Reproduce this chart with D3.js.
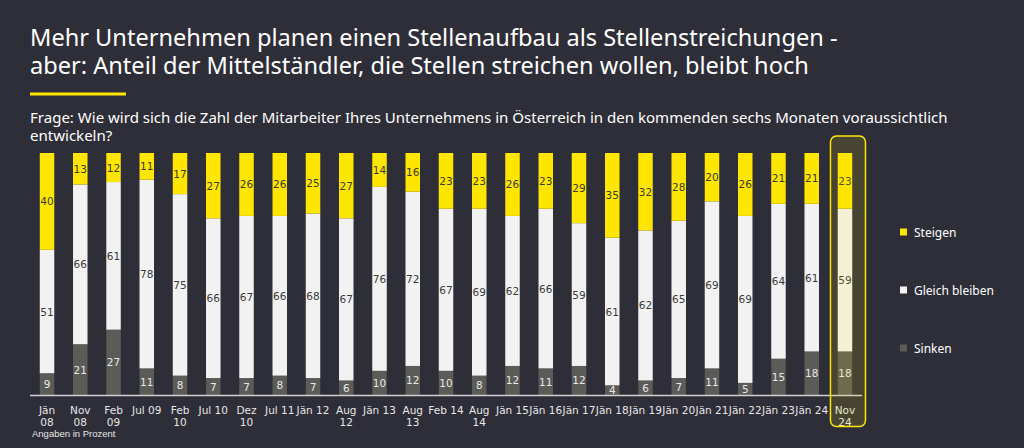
<!DOCTYPE html>
<html><head><meta charset="utf-8">
<script src="https://cdn.jsdelivr.net/npm/d3@7"></script>
<style>
html,body{margin:0;padding:0;background:#2e2e38;}
svg{display:block;}
</style></head>
<body>
<svg id="c" width="1024" height="448"></svg>
<script>
const categories = ["Jän\n08","Nov\n08","Feb\n09","Jul 09","Feb\n10","Jul 10","Dez\n10","Jul 11","Jän 12","Aug\n12","Jän 13","Aug\n13","Feb 14","Aug\n14","Jän 15","Jän 16","Jän 17","Jän 18","Jän 19","Jän 20","Jän 21","Jän 22","Jän 23","Jän 24","Nov\n24"];
const steigen = [40,13,12,11,17,27,26,26,25,27,14,16,23,23,26,23,29,35,32,28,20,26,21,21,23];
const gleich  = [51,66,61,78,75,66,67,66,68,67,76,72,67,69,62,66,59,61,62,65,69,69,64,61,59];
const sinken  = [9,21,27,11,8,7,7,8,7,6,10,12,10,8,12,11,12,4,6,7,11,5,15,18,18];
const seriesNames = ["Sinken","Gleich bleiben","Steigen"];
const legendOrder = ["Steigen","Gleich bleiben","Sinken"];
const titleLines = ["Mehr Unternehmen planen einen Stellenaufbau als Stellenstreichungen -","aber: Anteil der Mittelständler, die Stellen streichen wollen, bleibt hoch"];
const subtitleLines = ["Frage: Wie wird sich die Zahl der Mitarbeiter Ihres Unternehmens in Österreich in den kommenden sechs Monaten voraussichtlich","entwickeln?"];
const footnote = "Angaben in Prozent";

const colors = {"Steigen":"#ffe600","Gleich bleiben":"#f2f2f2","Sinken":"#5b5b58"};
const labelColors = {"Steigen":"#3a3a3a","Gleich bleiben":"#3a3a3a","Sinken":"#e8e8e8"};

const svg = d3.select("#c");
const W = 1024, H = 448;
svg.append("rect").attr("width",W).attr("height",H).attr("fill","#2e2e38");

function fitText(sel, target){
  const len = sel.node().getComputedTextLength();
  const fs = parseFloat(sel.attr("font-size"));
  sel.attr("font-size", (fs*target/len).toFixed(2));
}

// Title
const titleFont = "'Noto Sans', 'Open Sans', sans-serif";
const t1 = svg.append("text").attr("x",30).attr("y",46).attr("fill","#ffffff")
  .attr("font-family",titleFont).attr("font-size",24).text(titleLines[0]);
fitText(t1, 808);
svg.append("text").attr("x",30).attr("y",74).attr("fill","#ffffff")
  .attr("font-family",titleFont).attr("font-size",t1.attr("font-size")).text(titleLines[1]);

svg.append("rect").attr("x",30).attr("y",92.5).attr("width",96).attr("height",3).attr("fill","#ffe600");

const s1 = svg.append("text").attr("x",30).attr("y",123).attr("fill","#ffffff")
  .attr("font-family",titleFont).attr("font-size",14).text(subtitleLines[0]);
fitText(s1, 918);
svg.append("text").attr("x",30).attr("y",141).attr("fill","#ffffff")
  .attr("font-family",titleFont).attr("font-size",s1.attr("font-size")).text(subtitleLines[1]);

// Data table
const data = categories.map((c,i)=>({cat:c,"Steigen":steigen[i],"Gleich bleiben":gleich[i],"Sinken":sinken[i]}));
const stack = d3.stack().keys(seriesNames)(data);

const x = d3.scaleBand().domain(categories).range([30.4,861.6]).paddingInner(0.564).paddingOuter(0.282);
const y = d3.scaleLinear().domain([0,100]).range([395,153]);

const gBars = svg.append("g");
stack.forEach(layer=>{
  const key = layer.key;
  gBars.selectAll(null).data(layer).join("rect")
    .attr("x",d=>x(d.data.cat)).attr("width",x.bandwidth())
    .attr("y",d=>y(d[1])).attr("height",d=>y(d[0])-y(d[1]))
    .attr("fill",colors[key]);
  gBars.selectAll(null).data(layer).join("text")
    .attr("x",d=>x(d.data.cat)+x.bandwidth()/2)
    .attr("y",d=>(y(d[0])+y(d[1]))/2+4)
    .attr("text-anchor","middle")
    .attr("font-family","'DejaVu Sans', Verdana, sans-serif")
    .attr("font-size",10.5)
    .attr("fill",labelColors[key])
    .text(d=>d.data[key]);
});

// Axis line
svg.append("line").attr("x1",30).attr("x2",862).attr("y1",395.5).attr("y2",395.5)
  .attr("stroke","#d0d0d0").attr("stroke-width",1.5);

// X tick labels via axis
const xAxis = d3.axisBottom(x).tickSize(0).tickPadding(0);
const gx = svg.append("g").attr("transform","translate(0,396)").call(xAxis);
gx.select(".domain").remove();
gx.selectAll(".tick text").each(function(d){
  const t = d3.select(this);
  const parts = d.split("\n");
  t.text(null).attr("y",null).attr("dy",null)
   .attr("fill","#e6e6e6").attr("font-family","'DejaVu Sans', Verdana, sans-serif").attr("font-size",10.5);
  parts.forEach((p,k)=>{
    t.append("tspan").attr("x",0).attr("y",18+k*12).text(p);
  });
});

// Footnote
svg.append("text").attr("x",32).attr("y",437).attr("fill","#e6e6e6")
  .attr("font-family","'Liberation Sans', Arial, sans-serif").attr("font-size",9.5).text(footnote);

// Highlight last bar
const last = categories[categories.length-1];
const cx = x(last)+x.bandwidth()/2;
svg.append("rect").attr("x",cx-14.5).attr("y",136).attr("width",35).attr("height",290.5)
  .attr("rx",6).attr("fill","rgba(255,230,0,0.12)").attr("stroke","#ffe600").attr("stroke-width",1.5);

// Legend
const legY = d3.scalePoint().domain(legendOrder).range([232,348]);
const gl = svg.append("g");
legendOrder.forEach(k=>{
  gl.append("rect").attr("x",900).attr("y",legY(k)-3.5).attr("width",7).attr("height",7).attr("fill",colors[k]);
  gl.append("text").attr("x",914).attr("y",legY(k)+4.5).attr("fill","#ffffff")
    .attr("font-family",titleFont).attr("font-size",12).text(k);
});
</script>
</body></html>
